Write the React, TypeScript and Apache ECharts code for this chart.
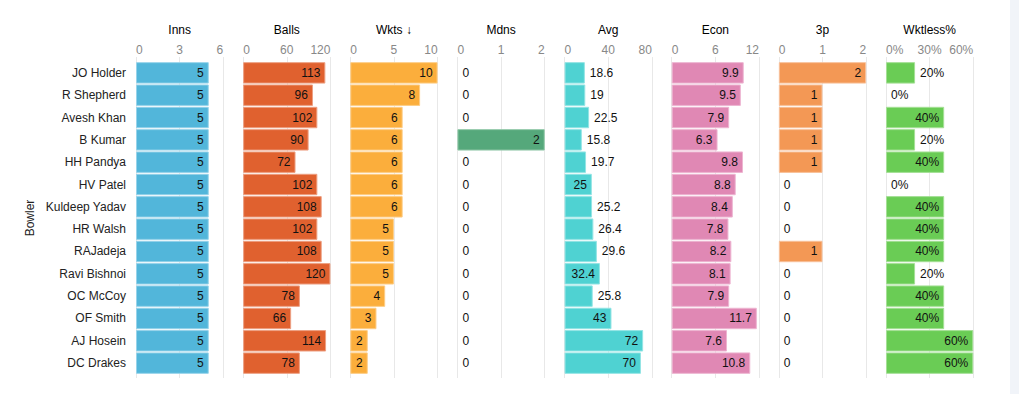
import React, { useEffect, useRef } from "react";
import * as echarts from "echarts";

const bowlers = [
  "JO Holder", "R Shepherd", "Avesh Khan", "B Kumar", "HH Pandya", "HV Patel", "Kuldeep Yadav",
  "HR Walsh", "RAJadeja", "Ravi Bishnoi", "OC McCoy", "OF Smith", "AJ Hosein", "DC Drakes",
];
const inns = [5, 5, 5, 5, 5, 5, 5, 5, 5, 5, 5, 5, 5, 5];
const balls = [113, 96, 102, 90, 72, 102, 108, 102, 108, 120, 78, 66, 114, 78];
const wkts = [10, 8, 6, 6, 6, 6, 6, 5, 5, 5, 4, 3, 2, 2];
const mdns = [0, 0, 0, 2, 0, 0, 0, 0, 0, 0, 0, 0, 0, 0];
const avg = [18.6, 19, 22.5, 15.8, 19.7, 25, 25.2, 26.4, 29.6, 32.4, 25.8, 43, 72, 70];
const econ = [9.9, 9.5, 7.9, 6.3, 9.8, 8.8, 8.4, 7.8, 8.2, 8.1, 7.9, 11.7, 7.6, 10.8];
const threeP = [2, 1, 1, 1, 1, 0, 0, 0, 1, 0, 0, 0, 0, 0];
const wktless = [20, 0, 40, 20, 40, 0, 40, 40, 40, 20, 40, 40, 60, 60];

const panelTitles = ["Inns", "Balls", "Wkts \u2193", "Mdns", "Avg", "Econ", "3p", "Wktless%"];
const panelData = [inns, balls, wkts, mdns, avg, econ, threeP, wktless];
const panelMax = [6, 120, 10, 2, 80, 12, 2, 60];
const panelInterval = [3, 60, 5, 1, 40, 6, 1, 30];
const panelSuffix = ["", "", "", "", "", "", "", "%"];
const panelColors = ["#52b6da", "#e0612f", "#fbae3c", "#55a87b", "#4fd2d2", "#e088b4", "#f39855", "#6acc55"];
const panelBorders = ["#97d3ea", "#eda083", "#fdcd86", "#93c9aa", "#93e4e4", "#edb5d1", "#f8c19a", "#a5e096"];

const FONT = "'Liberation Sans', Arial, Helvetica, sans-serif";

function textWidth(s: string): number {
  let w = 0;
  for (const ch of s) {
    if (ch === ".") w += 3.34;
    else if (ch === "%") w += 10.67;
    else w += 6.67;
  }
  return w;
}

export default function App() {
  const ref = useRef<HTMLDivElement>(null);
  useEffect(() => {
    if (!ref.current) return;
    const chart = echarts.init(ref.current, undefined, { renderer: "svg" });
    const panelLeft0 = 136;
    const step = 107.14;
    const panelW = 87.3;
    const grids: any[] = [];
    const xAxes: any[] = [];
    const yAxes: any[] = [];
    const series: any[] = [];
    panelData.forEach((data, i) => {
      const left = panelLeft0 + i * step;
      grids.push({ left, width: panelW, top: 57, height: 321 });
      grids.push({ left, width: panelW, top: 61.7, height: 312.6 });
      const ga = i * 2;
      const gb = i * 2 + 1;
      xAxes.push({
        type: "value",
        gridIndex: ga,
        position: "top",
        min: 0,
        max: panelMax[i],
        interval: panelInterval[i],
        name: panelTitles[i],
        nameLocation: "middle",
        nameGap: 21,
        nameTextStyle: { fontSize: 12, color: "#000", fontFamily: FONT },
        axisLine: { show: false },
        axisTick: { show: false },
        axisLabel: {
          fontSize: 12,
          color: "#888",
          fontFamily: FONT,
          margin: 1,
          alignMinLabel: "left",
          alignMaxLabel: "right",
          formatter: (v: number) => v + panelSuffix[i],
        },
        splitLine: { show: true, lineStyle: { color: "#e8e8e8", width: 1 } },
      });
      xAxes.push({
        type: "value",
        gridIndex: gb,
        min: 0,
        max: panelMax[i],
        show: false,
      });
      yAxes.push({
        type: "category",
        gridIndex: ga,
        data: bowlers,
        inverse: true,
        show: false,
      });
      yAxes.push({
        type: "category",
        gridIndex: gb,
        data: bowlers,
        inverse: true,
        axisLine: { show: false },
        axisTick: { show: false },
        axisLabel: {
          show: i === 0,
          fontSize: 12,
          color: "#222",
          fontFamily: FONT,
          margin: 10,
        },
        name: i === 0 ? "Bowler" : "",
        nameLocation: "middle",
        nameRotate: 90,
        nameGap: 100,
        nameTextStyle: { fontSize: 12, color: "#222", fontFamily: FONT },
      });
      const pxPerUnit = panelW / panelMax[i];
      series.push({
        type: "bar",
        xAxisIndex: gb,
        yAxisIndex: gb,
        barWidth: "96%",
        itemStyle: { color: panelColors[i], borderColor: panelBorders[i], borderWidth: 1 },
        data: data.map((v) => {
          const txt = v + panelSuffix[i];
          const inside = v > 0 && v * pxPerUnit - textWidth(txt) >= 10.5;
          return {
            value: v,
            itemStyle: v === 0 ? { borderWidth: 0, opacity: 0 } : undefined,
            label: {
              show: true,
              position: inside ? "insideRight" : "right",
              distance: 5,
              fontSize: 12,
              color: "#111",
              fontFamily: FONT,
              opacity: 1,
              formatter: () => txt,
            },
          };
        }),
      });
    });
    chart.setOption({
      animation: false,
      textStyle: { fontFamily: FONT },
      grid: grids,
      xAxis: xAxes,
      yAxis: yAxes,
      series,
      graphic: [
        {
          type: "rect",
          shape: { x: 1010, y: 0, width: 9, height: 394 },
          style: { fill: "#f1f4f9" },
        },
      ],
    });
    return () => chart.dispose();
  }, []);
  return (
    <div
      ref={ref}
      style={{ position: "fixed", left: 0, top: 0, width: 1019, height: 394, background: "#fff" }}
    />
  );
}
